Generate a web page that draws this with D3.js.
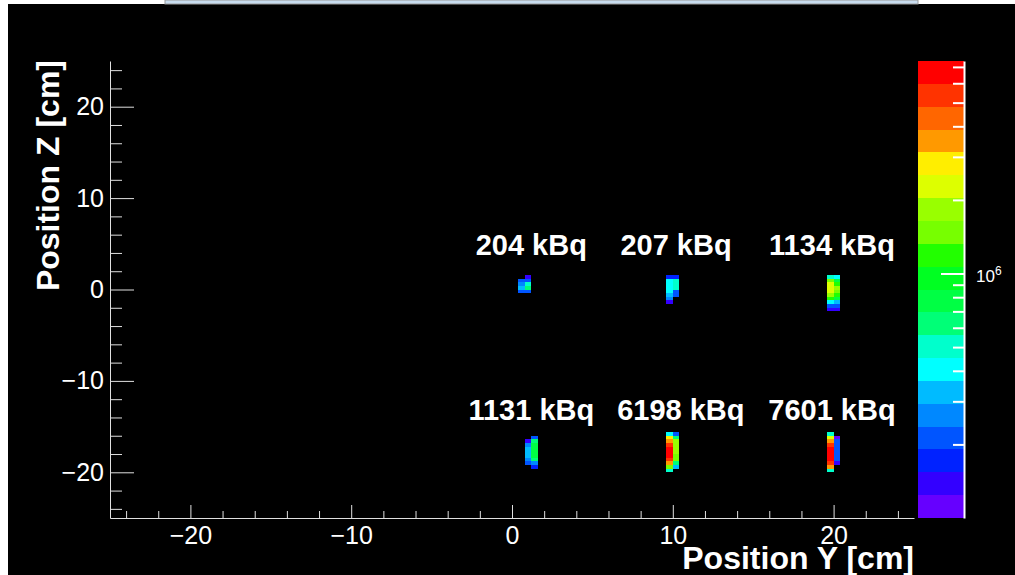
<!DOCTYPE html>
<html><head><meta charset="utf-8">
<script src="https://cdn.jsdelivr.net/npm/d3@7"></script>
<style>
html,body{margin:0;padding:0;background:#fff;}
svg{display:block;font-family:"Liberation Sans",Arial,Helvetica,sans-serif;}
</style></head><body>
<svg id="c" width="1015" height="575"></svg>
<script>
// Histogram binning in cm
const binY = 0.4, binZ = 0.4;

// Reconstructed activity per bin (Bq). Each column: left edge in Y, top edge in Z, contents top row first.
const spotA = [ {y0: 0.4, z0: 1.2, v: [2.0e5, 2.6e5, 3.4e5, 2.2e5]},
                {y0: 0.8, z0: 1.6, v: [1.5e5, 2.2e5, 5.4e5, 6.0e5, 2.0e5]} ];
const spotB = [ {y0: 9.6, z0: 1.6, v: [1.6e5, 4.0e5, 4.2e5, 4.0e5, 3.8e5, 3.5e5, 2.6e5, 1.5e5]},
                {y0: 10.0, z0: 1.6, v: [1.6e5, 4.6e5, 4.8e5, 4.6e5, 2.2e5, 2.0e5]} ];
const spotC = [ {y0: 19.6, z0: 1.6, v: [4.6e5, 1.5e6, 2.1e6, 2.2e6, 2.1e6, 1.8e6, 1.2e6, 4.0e5, 2.3e5, 1.4e5]},
                {y0: 20.0, z0: 1.6, v: [3.8e5, 8.0e5, 1.3e6, 1.9e6, 1.6e6, 1.2e6, 7.5e5, 3.6e5, 2.0e5, 1.5e5]} ];
const spotD = [ {y0: 0.8, z0: -16.4, v: [1.5e5, 2.6e5, 3.3e5, 3.4e5, 3.0e5, 2.5e5, 2.0e5]},
                {y0: 1.2, z0: -16.0, v: [2.1e5, 5.8e5, 7.5e5, 8.0e5, 8.2e5, 7.8e5, 6.5e5, 2.4e5, 1.6e5]} ];
const spotE = [ {y0: 9.6, z0: -15.6, v: [4.2e5, 2.7e6, 3.5e6, 5.0e6, 6.3e6, 6.6e6, 6.2e6, 5.2e6, 3.4e6, 1.6e6, 4.8e5]},
                {y0: 10.0, z0: -15.6, v: [2.1e5, 6.0e5, 1.7e6, 1.8e6, 1.8e6, 1.7e6, 1.6e6, 1.5e6, 6.5e5, 3.2e5]} ];
const spotF = [ {y0: 19.6, z0: -15.6, v: [4.8e5, 2.1e6, 3.4e6, 5.0e6, 6.6e6, 7.0e6, 7.2e6, 6.8e6, 5.2e6, 3.3e6, 5.0e5]},
                {y0: 20.0, z0: -16.0, v: [1.2e5, 2.1e5, 2.2e5, 2.2e5, 2.2e5, 2.1e5, 2.0e5, 1.4e5]} ];

// Source activity annotations (text, Y, Z position in cm)
const labelText = ["204 kBq", "207 kBq", "1134 kBq", "1131 kBq", "6198 kBq", "7601 kBq"];
const labelY    = [1.2, 10.2, 19.9, 1.2, 10.5, 19.9];
const labelZ    = [3.8, 3.8, 3.8, -14.3, -14.3, -14.3];

// Axis ranges and ticks
const yRange = [-25, 25], zRangeAxis = [-25, 25];
const xMajor = [-20, -10, 0, 10, 20];
const xMinor = [-24, -22, -18, -16, -14, -12, -8, -6, -4, -2, 2, 4, 6, 8, 12, 14, 16, 18, 22, 24];
const yMajor = [-20, -10, 0, 10, 20];
const yMinor = xMinor;

// Colour scale (log) and its contour palette, lowest level first
const zMin = 1e5, zMax = 7.4e6;
const palette = ["#6600ff", "#3300ff", "#0022ff", "#0055ff", "#0088ff", "#00bbff", "#00ffff",
                 "#00ffcc", "#00ff77", "#00ff44", "#00ff22", "#22ff00", "#77ff00", "#99ff00",
                 "#ddff00", "#ffee00", "#ff9900", "#ff6600", "#ff3300", "#ff0000"];
const zMajor = [1e6];
const zMinor = [2e5, 3e5, 4e5, 5e5, 6e5, 7e5, 8e5, 9e5, 2e6, 3e6, 4e6, 5e6, 6e6, 7e6];

const svg = d3.select("#c");
const W = 1015, H = 575;

// canvas
svg.append("rect").attr("x", 8).attr("y", 4).attr("width", W - 8).attr("height", H - 4).attr("fill", "#000");
svg.append("rect").attr("x", 165).attr("y", 0).attr("width", 753).attr("height", 4)
  .attr("fill", "#c8dcef").attr("stroke", "#9a9a9a").attr("stroke-width", 1);

const x = d3.scaleLinear().domain(yRange).range([110, 914]);
const y = d3.scaleLinear().domain(zRangeAxis).range([518, 61]);
const zs = d3.scaleLog().domain([zMin, zMax]).range([518, 61]);
const lMin = Math.log10(zMin), lMax = Math.log10(zMax);
const nLev = palette.length;
function colorOf(v) {
  let i = Math.floor((Math.log10(v) - lMin) / (lMax - lMin) * nLev);
  return palette[Math.max(0, Math.min(nLev - 1, i))];
}

// histogram cells
const cells = [];
[spotA, spotB, spotC, spotD, spotE, spotF].forEach(s => s.forEach(col => {
  col.v.forEach((v, k) => cells.push({y0: col.y0, z1: col.z0 - k * binZ, v}));
}));
svg.append("g").selectAll("rect").data(cells).join("rect")
  .attr("x", d => x(d.y0))
  .attr("y", d => y(d.z1))
  .attr("width", d => x(d.y0 + binY) - x(d.y0))
  .attr("height", d => y(d.z1 - binZ) - y(d.z1))
  .attr("fill", d => colorOf(d.v))
  .attr("shape-rendering", "crispEdges");

// axes
function styleAxis(g) {
  g.select(".domain").attr("stroke", "#e0e0e0");
  g.selectAll(".tick line").attr("stroke", "#e0e0e0");
  g.selectAll("text").attr("fill", "#fff").attr("font-size", 25).attr("font-family", "Liberation Sans, Arial, sans-serif");
}
const gx = svg.append("g").attr("transform", `translate(0,${y(-25)})`)
  .call(d3.axisBottom(x).tickValues(xMajor).tickSize(-13).tickSizeOuter(0).tickPadding(8).tickFormat(d3.format("d")));
styleAxis(gx);
const gxm = svg.append("g").attr("transform", `translate(0,${y(-25)})`)
  .call(d3.axisBottom(x).tickValues(xMinor).tickSize(-7).tickSizeOuter(0).tickFormat(""));
styleAxis(gxm); gxm.select(".domain").remove();

const gy = svg.append("g").attr("transform", `translate(${x(-25)},0)`)
  .call(d3.axisLeft(y).tickValues(yMajor).tickSize(-24).tickSizeOuter(0).tickPadding(6).tickFormat(d3.format("d")));
styleAxis(gy);
const gym = svg.append("g").attr("transform", `translate(${x(-25)},0)`)
  .call(d3.axisLeft(y).tickValues(yMinor).tickSize(-12).tickSizeOuter(0).tickFormat(""));
styleAxis(gym); gym.select(".domain").remove();

// axis titles
svg.append("text").attr("x", x(25)).attr("y", 569).attr("text-anchor", "end")
  .attr("fill", "#fff").attr("font-weight", "bold").attr("font-size", 32).text("Position Y [cm]");
svg.append("text").attr("transform", `translate(59,${y(25) - 1}) rotate(-90)`).attr("text-anchor", "end")
  .attr("fill", "#fff").attr("font-weight", "bold").attr("font-size", 32).text("Position Z [cm]");

// colour bar
const cbX0 = 918, cbX1 = 964;
const levels = d3.range(nLev + 1).map(i => Math.pow(10, lMin + (lMax - lMin) * i / nLev));
svg.append("g").selectAll("rect").data(d3.range(nLev)).join("rect")
  .attr("x", cbX0).attr("width", cbX1 - cbX0)
  .attr("y", i => zs(levels[i + 1])).attr("height", i => zs(levels[i]) - zs(levels[i + 1]))
  .attr("fill", i => palette[i]).attr("shape-rendering", "crispEdges");
const gz = svg.append("g").attr("transform", `translate(${cbX1},0)`)
  .call(d3.axisRight(zs).tickValues(zMajor).tickSize(-23).tickSizeOuter(0).tickFormat(""));
gz.select(".domain").attr("stroke", "#fff").attr("stroke-width", 2);
gz.selectAll(".tick line").attr("stroke", "#fff").attr("stroke-width", 2);
const gzm = svg.append("g").attr("transform", `translate(${cbX1},0)`)
  .call(d3.axisRight(zs).tickValues(zMinor).tickSize(-11).tickSizeOuter(0).tickFormat(""));
gzm.select(".domain").remove();
gzm.selectAll(".tick line").attr("stroke", "#fff").attr("stroke-width", 2);
zMajor.forEach(v => {
  const t = svg.append("text").attr("x", 976).attr("y", zs(v) + 8).attr("fill", "#fff").attr("font-size", 17);
  t.append("tspan").text("10");
  t.append("tspan").attr("font-size", 12).attr("dy", -7).text(Math.round(Math.log10(v)));
});

// source labels
svg.append("g").selectAll("text").data(labelText).join("text")
  .attr("x", (d, i) => x(labelY[i])).attr("y", (d, i) => y(labelZ[i]))
  .attr("text-anchor", "middle").attr("fill", "#fff").attr("font-weight", "bold").attr("font-size", 29)
  .text(d => d);
</script>
</body></html>
